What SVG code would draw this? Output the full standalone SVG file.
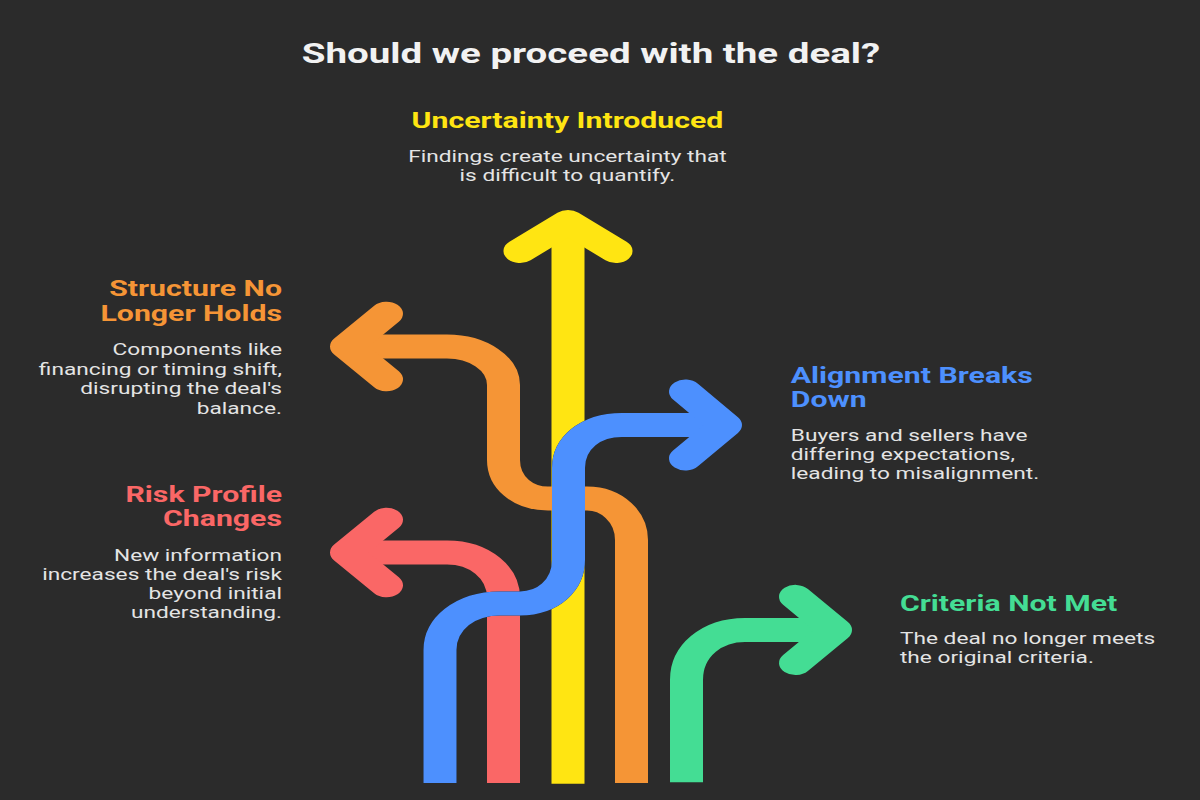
<svg xmlns="http://www.w3.org/2000/svg" width="1200" height="800" viewBox="0 0 1200 800">
<style>
.t{font-family:Roboto,"Liberation Sans",sans-serif;font-weight:700;font-size:28px;fill:#f2f2f2}
.h{font-family:Roboto,"Liberation Sans",sans-serif;font-weight:700;font-size:22px}
.b{font-family:Roboto,"Liberation Sans",sans-serif;font-weight:400;font-size:16.5px;fill:#e4e4e4}
.s{fill:none;stroke-width:33;stroke-linecap:butt;stroke-linejoin:round}
.hd{fill:none;stroke-width:33;stroke-linecap:round;stroke-linejoin:round}
.m{text-anchor:middle}.e{text-anchor:end}
</style>
<rect width="1200" height="800" fill="#2b2b2b"/>
<g id="connectors" transform="scale(1,0.727)">
  <g id="arrow-yellow" stroke="#ffe512">
    <path class="s" d="M568 1078 V305.4"/>
    <path class="hd" d="M520 345.3 L568 305.4 L616 345.3"/>
  </g>
  <g id="arrow-orange" stroke="#f59536">
    <path class="s" d="M631.5 1077 V742.8 C631.5 711 612 685.7 587 685.7 H548 C523 685.7 503.5 664 503.5 632.7 V529.6 C503.5 500 478 476.6 447 476.6 H346.5"/>
    <path class="hd" d="M386.5 431.6 L346.5 476.6 L386.5 521.6"/>
  </g>
  <g id="arrow-red" stroke="#fa6766">
    <path class="s" d="M503.5 1077 V822 C503.5 788 480 760 447 760 H346.5"/>
    <path class="hd" d="M386.5 715 L346.5 760 L386.5 805"/>
  </g>
  <g id="arrow-blue">
    <path class="s" stroke="#1f1f1f" stroke-width="37" d="M440 1077 V894 C440 858 465 830 500 830 H520 C548 830 568.5 805 568.5 770 V643.7 C568.5 610 590 584.6 622 584.6 H725.5"/>
    <path class="s" stroke="#4d90fe" d="M440 1077 V894 C440 858 465 830 500 830 H520 C548 830 568.5 805 568.5 770 V643.7 C568.5 610 590 584.6 622 584.6 H725.5"/>
    <path class="hd" stroke="#4d90fe" d="M685.5 538.6 L725.5 584.6 L685.5 630.6"/>
  </g>
  <g id="arrow-green" stroke="#44dd94">
    <path class="s" d="M686.5 1076 V935 C686.5 895 712 866.6 745 866.6 H835.5"/>
    <path class="hd" d="M795.5 821 L835.5 866.6 L795.5 912"/>
  </g>
</g>
<g transform="scale(1.375,1)">
  <g id="title"><text class="t m" x="429.8" y="63">Should we proceed with the deal?</text></g>
  <g id="node-uncertainty">
    <text class="h m" x="412.7" y="128" fill="#ffe512">Uncertainty Introduced</text>
    <text class="b m" x="412.7" y="162">Findings create uncertainty that</text>
    <text class="b m" x="412.7" y="181.5">is difficult to quantify.</text>
  </g>
  <g id="node-structure">
    <text class="h e" x="205.1" y="296" fill="#f59536">Structure No</text>
    <text class="h e" x="205.1" y="320.7" fill="#f59536">Longer Holds</text>
    <text class="b e" x="205.1" y="355.5">Components like</text>
    <text class="b e" x="205.1" y="375">financing or timing shift,</text>
    <text class="b e" x="205.1" y="394.5">disrupting the deal's</text>
    <text class="b e" x="205.1" y="414">balance.</text>
  </g>
  <g id="node-risk">
    <text class="h e" x="205.1" y="501.7" fill="#fa6766">Risk Profile</text>
    <text class="h e" x="205.1" y="526" fill="#fa6766">Changes</text>
    <text class="b e" x="205.1" y="561.5">New information</text>
    <text class="b e" x="205.1" y="580.5">increases the deal's risk</text>
    <text class="b e" x="205.1" y="599.5">beyond initial</text>
    <text class="b e" x="205.1" y="618.5">understanding.</text>
  </g>
  <g id="node-alignment">
    <text class="h" x="575.1" y="382.7" fill="#4d90fe">Alignment Breaks</text>
    <text class="h" x="575.1" y="407.3" fill="#4d90fe">Down</text>
    <text class="b" x="575.1" y="441.5">Buyers and sellers have</text>
    <text class="b" x="575.1" y="460.5">differing expectations,</text>
    <text class="b" x="575.1" y="479.5">leading to misalignment.</text>
  </g>
  <g id="node-criteria">
    <text class="h" x="654.5" y="610.7" fill="#44dd94">Criteria Not Met</text>
    <text class="b" x="654.5" y="644.3">The deal no longer meets</text>
    <text class="b" x="654.5" y="663">the original criteria.</text>
  </g>
</g>
</svg>
